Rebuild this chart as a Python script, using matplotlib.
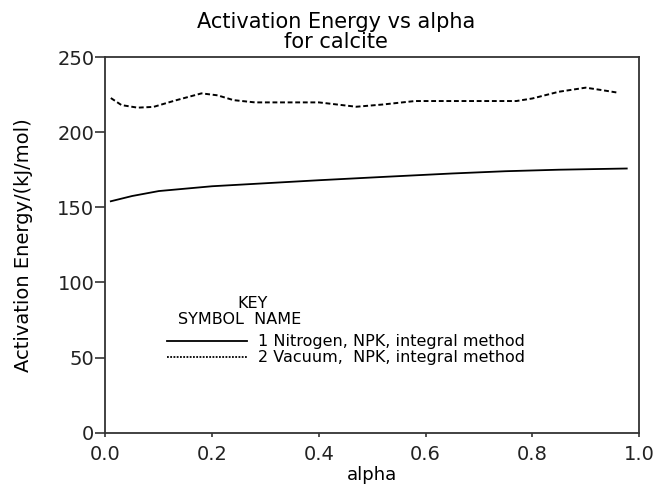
import numpy as np
import matplotlib.pyplot as plt

plt.rcParams['font.family'] = ['DejaVu Sans']

# solid line: Nitrogen
alpha_n = [0.01, 0.05, 0.10, 0.20, 0.29, 0.40, 0.52, 0.65, 0.75, 0.85, 0.977]
ea_n = [154.0, 157.5, 160.8, 164.0, 165.8, 168.0, 170.2, 172.5, 174.0, 175.0, 175.8]

# dotted line: Vacuum
alpha_v = [0.01, 0.03, 0.06, 0.09, 0.13, 0.18, 0.21, 0.24, 0.28, 0.40, 0.47, 0.52,
           0.58, 0.77, 0.80, 0.85, 0.90, 0.93, 0.958]
ea_v = [222.7, 218.0, 216.3, 216.8, 221.0, 225.8, 224.5, 221.3, 219.8, 219.8, 216.9, 218.4,
        220.7, 220.7, 222.4, 226.9, 229.6, 228.0, 226.4]

xticks = [0.0, 0.2, 0.4, 0.6, 0.8, 1.0]
yticks = [0, 50, 100, 150, 200, 250]
labels = ['1 Nitrogen, NPK, integral method', '2 Vacuum,  NPK, integral method']

fig = plt.figure(figsize=(6.56, 4.86), dpi=100)
ax = fig.add_axes([0.1608, 0.1097, 0.8133, 0.773])

ax.plot(alpha_n, ea_n, color='black', lw=1.3)
ax.plot(alpha_v, ea_v, color='black', lw=1.4, ls=(0, (2.5, 1.4)))

ax.set_xlim(0, 1.0)
ax.set_ylim(0, 250)
ax.set_xticks(xticks)
ax.set_xticklabels(['%.1f' % v for v in xticks])
ax.set_yticks(yticks)
ax.tick_params(axis='both', labelsize=14, colors='#222222', width=1.1)
ax.tick_params(axis='x', direction='out', length=3, pad=6)
ax.tick_params(axis='y', direction='out', length=7, pad=1)
for s in ax.spines.values():
    s.set_linewidth(1.3)
    s.set_color('#333333')

ax.set_xlabel('alpha', fontsize=13)
ax.xaxis.set_label_coords(0.5, -0.088)
ax.set_ylabel('Activation Energy/(kJ/mol)', fontsize=14)
ax.yaxis.set_label_coords(-0.136, 0.5)

fig.text(0.512, 0.9424, 'Activation Energy vs alpha', fontsize=15, ha='center', va='baseline')
fig.text(0.512, 0.9012, 'for calcite', fontsize=15, ha='center', va='baseline')

# hand-made key like the original
ax.text(0.2765, 0.345, 'KEY', fontsize=11.5, ha='center', va='center', transform=ax.transAxes)
ax.text(0.252, 0.300, 'SYMBOL  NAME', fontsize=11.5, ha='center', va='center', transform=ax.transAxes)
ax.plot([0.115, 0.265], [0.244, 0.244], color='black', lw=1.3, transform=ax.transAxes)
ax.plot([0.115, 0.265], [0.201, 0.201], color='black', lw=1.3, ls=(0, (1, 0.8)), transform=ax.transAxes)
ax.text(0.286, 0.244, labels[0], fontsize=11.5, va='center', transform=ax.transAxes)
ax.text(0.286, 0.201, labels[1], fontsize=11.5, va='center', transform=ax.transAxes)

fig.savefig('out.png', dpi=100)
